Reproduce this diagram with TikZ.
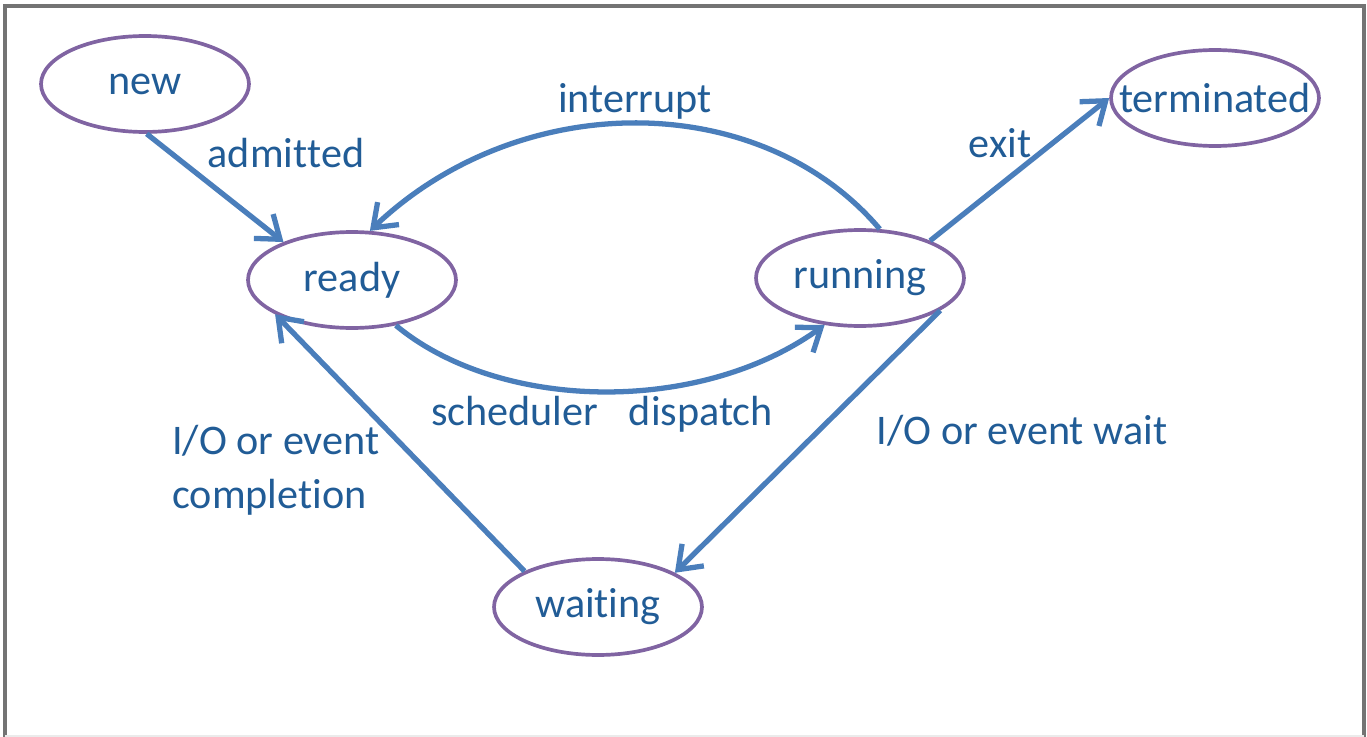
\documentclass[tikz,border=0pt]{standalone}
\usepackage{fontspec}
\setmainfont{Carlito}[Ligatures={NoCommon,NoContextual,NoRare}, RawFeature={-calt}]
\usetikzlibrary{arrows.meta,shapes.geometric}
\definecolor{statepurple}{RGB}{128,100,162}
\definecolor{arrowblue}{RGB}{74,126,187}
\definecolor{labelblue}{RGB}{33,92,150}
\tikzset{
	state/.style={draw=statepurple, line width=2.1pt, ellipse, inner sep=0pt,
		minimum width=4.16cm, minimum height=1.92cm, text=labelblue,
		font=\fontsize{24}{29}\selectfont},
	trans/.style={draw=arrowblue, line width=3pt,
		-{Straight Barb[length=0.42cm, width=0.62cm, line width=3pt]}},
	tlabel/.style={text=labelblue, inner sep=0pt,
		font=\fontsize{24}{31}\selectfont}
}

\begin{document}
\begin{tikzpicture}[x=0.02cm, y=-0.02cm]
		%%%%% START %%%%%
		
		\useasboundingbox (0, 0) rectangle (1367, 737);
		\draw[line width=2.5pt, color=black!55] (5, 737) -- (5, 6) -- (1364, 6) -- (1364, 737);
		\draw[line width=1pt, color=black!8] (5, 736) -- (1364, 736);
		
		\node[state] (new) at (145, 84) {new};
		\node[state] (ready) at (352, 280) {ready};
		\node[state] (running) at (860, 278) {running};
		\node[state] (terminated) at (1215, 98) {\makebox[2.9cm]{terminated}};
		\node[state] (waiting) at (598, 607) {wait\kern0pt ing};
		
		\draw[trans] (new.-88) -- (ready.151);
		\draw[trans] (running.68) .. controls (760, 88) and (520, 88) .. (ready.70);
		\draw[trans] (ready.-46) .. controls (500, 412) and (700, 415) .. (running.-127);
		\draw[trans] (running.28) -- (terminated.180);
		\draw[trans] (running.-22) -- (waiting.24);
		\draw[trans] (waiting.154) -- (ready.204);
		
		\node[tlabel] (admitted) at (286, 153) {admit\kern0pt ted};
		\node[tlabel] (interrupt) at (635, 101) {interrupt};
		\node[tlabel] (exit) at (1000, 143) {exit};
		\node[tlabel] (dispatch) at (602, 414) {scheduler\hspace{0.5em} dispatch};
		\node[tlabel] (iowait) at (1022, 431) {I/O or event wait};
		\node[tlabel, align=left, anchor=west] (iodone) at (172, 470) {I/O or event\\complet\kern0pt ion};
		
		%%%%% END %%%%%
	\end{tikzpicture}
\end{document}
